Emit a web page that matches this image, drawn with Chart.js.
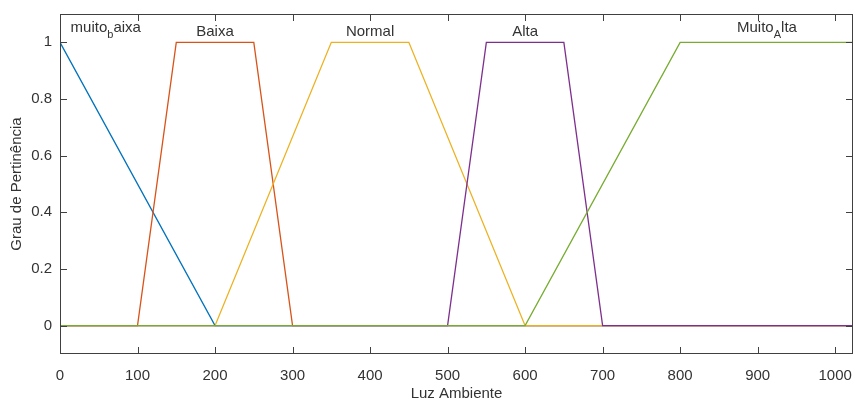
<!DOCTYPE html>
<html>
<head>
<meta charset="utf-8">
<script src="https://cdn.jsdelivr.net/npm/chart.js@4/dist/chart.umd.min.js"></script>
<style>
  html, body { margin: 0; padding: 0; background: #fff; }
  canvas { display: block; }
</style>
</head>
<body>
<canvas id="mfChart" width="855" height="401"></canvas>
<script>
// membership functions of the "Luz Ambiente" input, range 0..1023
const xMin = 0;
const xMax = 1023;

const mfNames = ["muito_baixa", "Baixa", "Normal", "Alta", "Muito_Alta"];
const mfColors = ["#0072BD", "#D95319", "#EDB120", "#7E2F8E", "#77AC30"];

const muitoBaixaX = [0, 200, 1023];
const muitoBaixaY = [1, 0, 0];
const baixaX = [0, 100, 150, 250, 300, 1023];
const baixaY = [0, 0, 1, 1, 0, 0];
const normalX = [0, 200, 350, 450, 600, 1023];
const normalY = [0, 0, 1, 1, 0, 0];
const altaX = [0, 500, 550, 650, 700, 1023];
const altaY = [0, 0, 1, 1, 0, 0];
const muitoAltaX = [0, 600, 800, 1023];
const muitoAltaY = [0, 0, 1, 1];

// where each name is written above its function
const labelX = [59, 200, 400, 600, 912];
const labelY = 1.023;

const xTicks = [0, 100, 200, 300, 400, 500, 600, 700, 800, 900, 1000];
const xTickLabels = ["0", "100", "200", "300", "400", "500", "600", "700", "800", "900", "1000"];
const yTicks = [0, 0.2, 0.4, 0.6, 0.8, 1];
const yTickLabels = ["0", "0.2", "0.4", "0.6", "0.8", "1"];

const FONT = '"Liberation Sans", Arial, Helvetica, sans-serif';
const TEXT_COLOR = "#333333";
const AXIS_COLOR = "#404040";

function toPoints(xs, ys) {
  return xs.map((x, i) => ({ x: x, y: ys[i] }));
}

const series = [
  toPoints(muitoBaixaX, muitoBaixaY),
  toPoints(baixaX, baixaY),
  toPoints(normalX, normalY),
  toPoints(altaX, altaY),
  toPoints(muitoAltaX, muitoAltaY),
];

// box around the axes with ticks pointing inwards, on all four sides
const axesBox = {
  id: "axesBox",
  afterDatasetsDraw(chart) {
    const { ctx, chartArea: a, scales: { x, y } } = chart;
    const len = 7;
    ctx.save();
    ctx.strokeStyle = AXIS_COLOR;
    ctx.lineWidth = 1;
    ctx.strokeRect(a.left + 0.5, a.top + 0.5, a.right - a.left - 1, a.bottom - a.top - 1);
    ctx.beginPath();
    xTicks.forEach(v => {
      const px = Math.round(x.getPixelForValue(v)) + 0.5;
      ctx.moveTo(px, a.bottom);
      ctx.lineTo(px, a.bottom - len);
      ctx.moveTo(px, a.top);
      ctx.lineTo(px, a.top + len);
    });
    yTicks.forEach(v => {
      const py = Math.round(y.getPixelForValue(v)) + 0.5;
      ctx.moveTo(a.left, py);
      ctx.lineTo(a.left + len, py);
      ctx.moveTo(a.right, py);
      ctx.lineTo(a.right - len, py);
    });
    ctx.stroke();
    ctx.restore();
  }
};

// function names, "a_b" is written with b as a subscript
const mfLabels = {
  id: "mfLabels",
  afterDatasetsDraw(chart) {
    const { ctx, scales: { x, y } } = chart;
    const mainFont = "15px " + FONT;
    const subFont = "11px " + FONT;
    ctx.save();
    ctx.fillStyle = TEXT_COLOR;
    ctx.textBaseline = "alphabetic";
    ctx.textAlign = "left";
    mfNames.forEach((name, i) => {
      const parts = [];
      const k = name.indexOf("_");
      if (k >= 0) {
        parts.push({ text: name.slice(0, k), sub: false });
        parts.push({ text: name.charAt(k + 1), sub: true });
        parts.push({ text: name.slice(k + 2), sub: false });
      } else {
        parts.push({ text: name, sub: false });
      }
      let width = 0;
      parts.forEach(p => {
        ctx.font = p.sub ? subFont : mainFont;
        p.w = ctx.measureText(p.text).width;
        width += p.w;
      });
      const hasSub = parts.length > 1;
      const base = y.getPixelForValue(labelY) - (hasSub ? 4 : 0);
      let cx = x.getPixelForValue(labelX[i]) - width / 2;
      parts.forEach(p => {
        ctx.font = p.sub ? subFont : mainFont;
        ctx.fillText(p.text, cx, p.sub ? base + 6 : base);
        cx += p.w;
      });
    });
    ctx.restore();
  }
};

const ctx = document.getElementById("mfChart").getContext("2d");

new Chart(ctx, {
  type: "line",
  data: {
    // later functions are drawn over earlier ones
    datasets: series.map((pts, i) => ({
      label: mfNames[i],
      data: pts,
      order: series.length - i,
      borderColor: mfColors[i],
      backgroundColor: mfColors[i],
      borderWidth: 1.3,
      pointRadius: 0,
      tension: 0,
      fill: false,
    })),
  },
  options: {
    responsive: false,
    animation: false,
    layout: { padding: { top: 14, right: 2, left: 0, bottom: 0 } },
    plugins: {
      legend: { display: false },
      tooltip: { enabled: false },
    },
    scales: {
      x: {
        type: "linear",
        min: xMin,
        max: xMax,
        grid: { display: false, drawTicks: false },
        border: { display: false },
        afterBuildTicks: scale => { scale.ticks = xTicks.map(v => ({ value: v })); },
        afterFit: scale => {
          scale.height = 47;
          scale.paddingLeft = 0;
          scale.paddingRight = 0;
        },
        ticks: {
          autoSkip: false,
          maxRotation: 0,
          padding: 13,
          color: TEXT_COLOR,
          font: { family: FONT, size: 15 },
          callback: (v) => xTickLabels[xTicks.indexOf(v)],
        },
        title: {
          display: true,
          text: "Luz Ambiente",
          color: TEXT_COLOR,
          font: { family: FONT, size: 15, lineHeight: 1 },
          padding: { top: 0, bottom: 0 },
        },
      },
      y: {
        type: "linear",
        min: -0.1,
        max: 1.1,
        grid: { display: false, drawTicks: false },
        border: { display: false },
        afterBuildTicks: scale => { scale.ticks = yTicks.map(v => ({ value: v })); },
        afterFit: scale => {
          scale.width = 60;
          scale.paddingTop = 0;
          scale.paddingBottom = 0;
        },
        ticks: {
          padding: 8,
          color: TEXT_COLOR,
          font: { family: FONT, size: 15 },
          callback: (v) => yTickLabels[yTicks.indexOf(v)],
        },
        title: {
          display: true,
          text: "Grau de Pertinência",
          color: TEXT_COLOR,
          font: { family: FONT, size: 15, lineHeight: 1 },
          padding: { top: 9, bottom: 0 },
        },
      },
    },
  },
  plugins: [axesBox, mfLabels],
});
</script>
</body>
</html>
